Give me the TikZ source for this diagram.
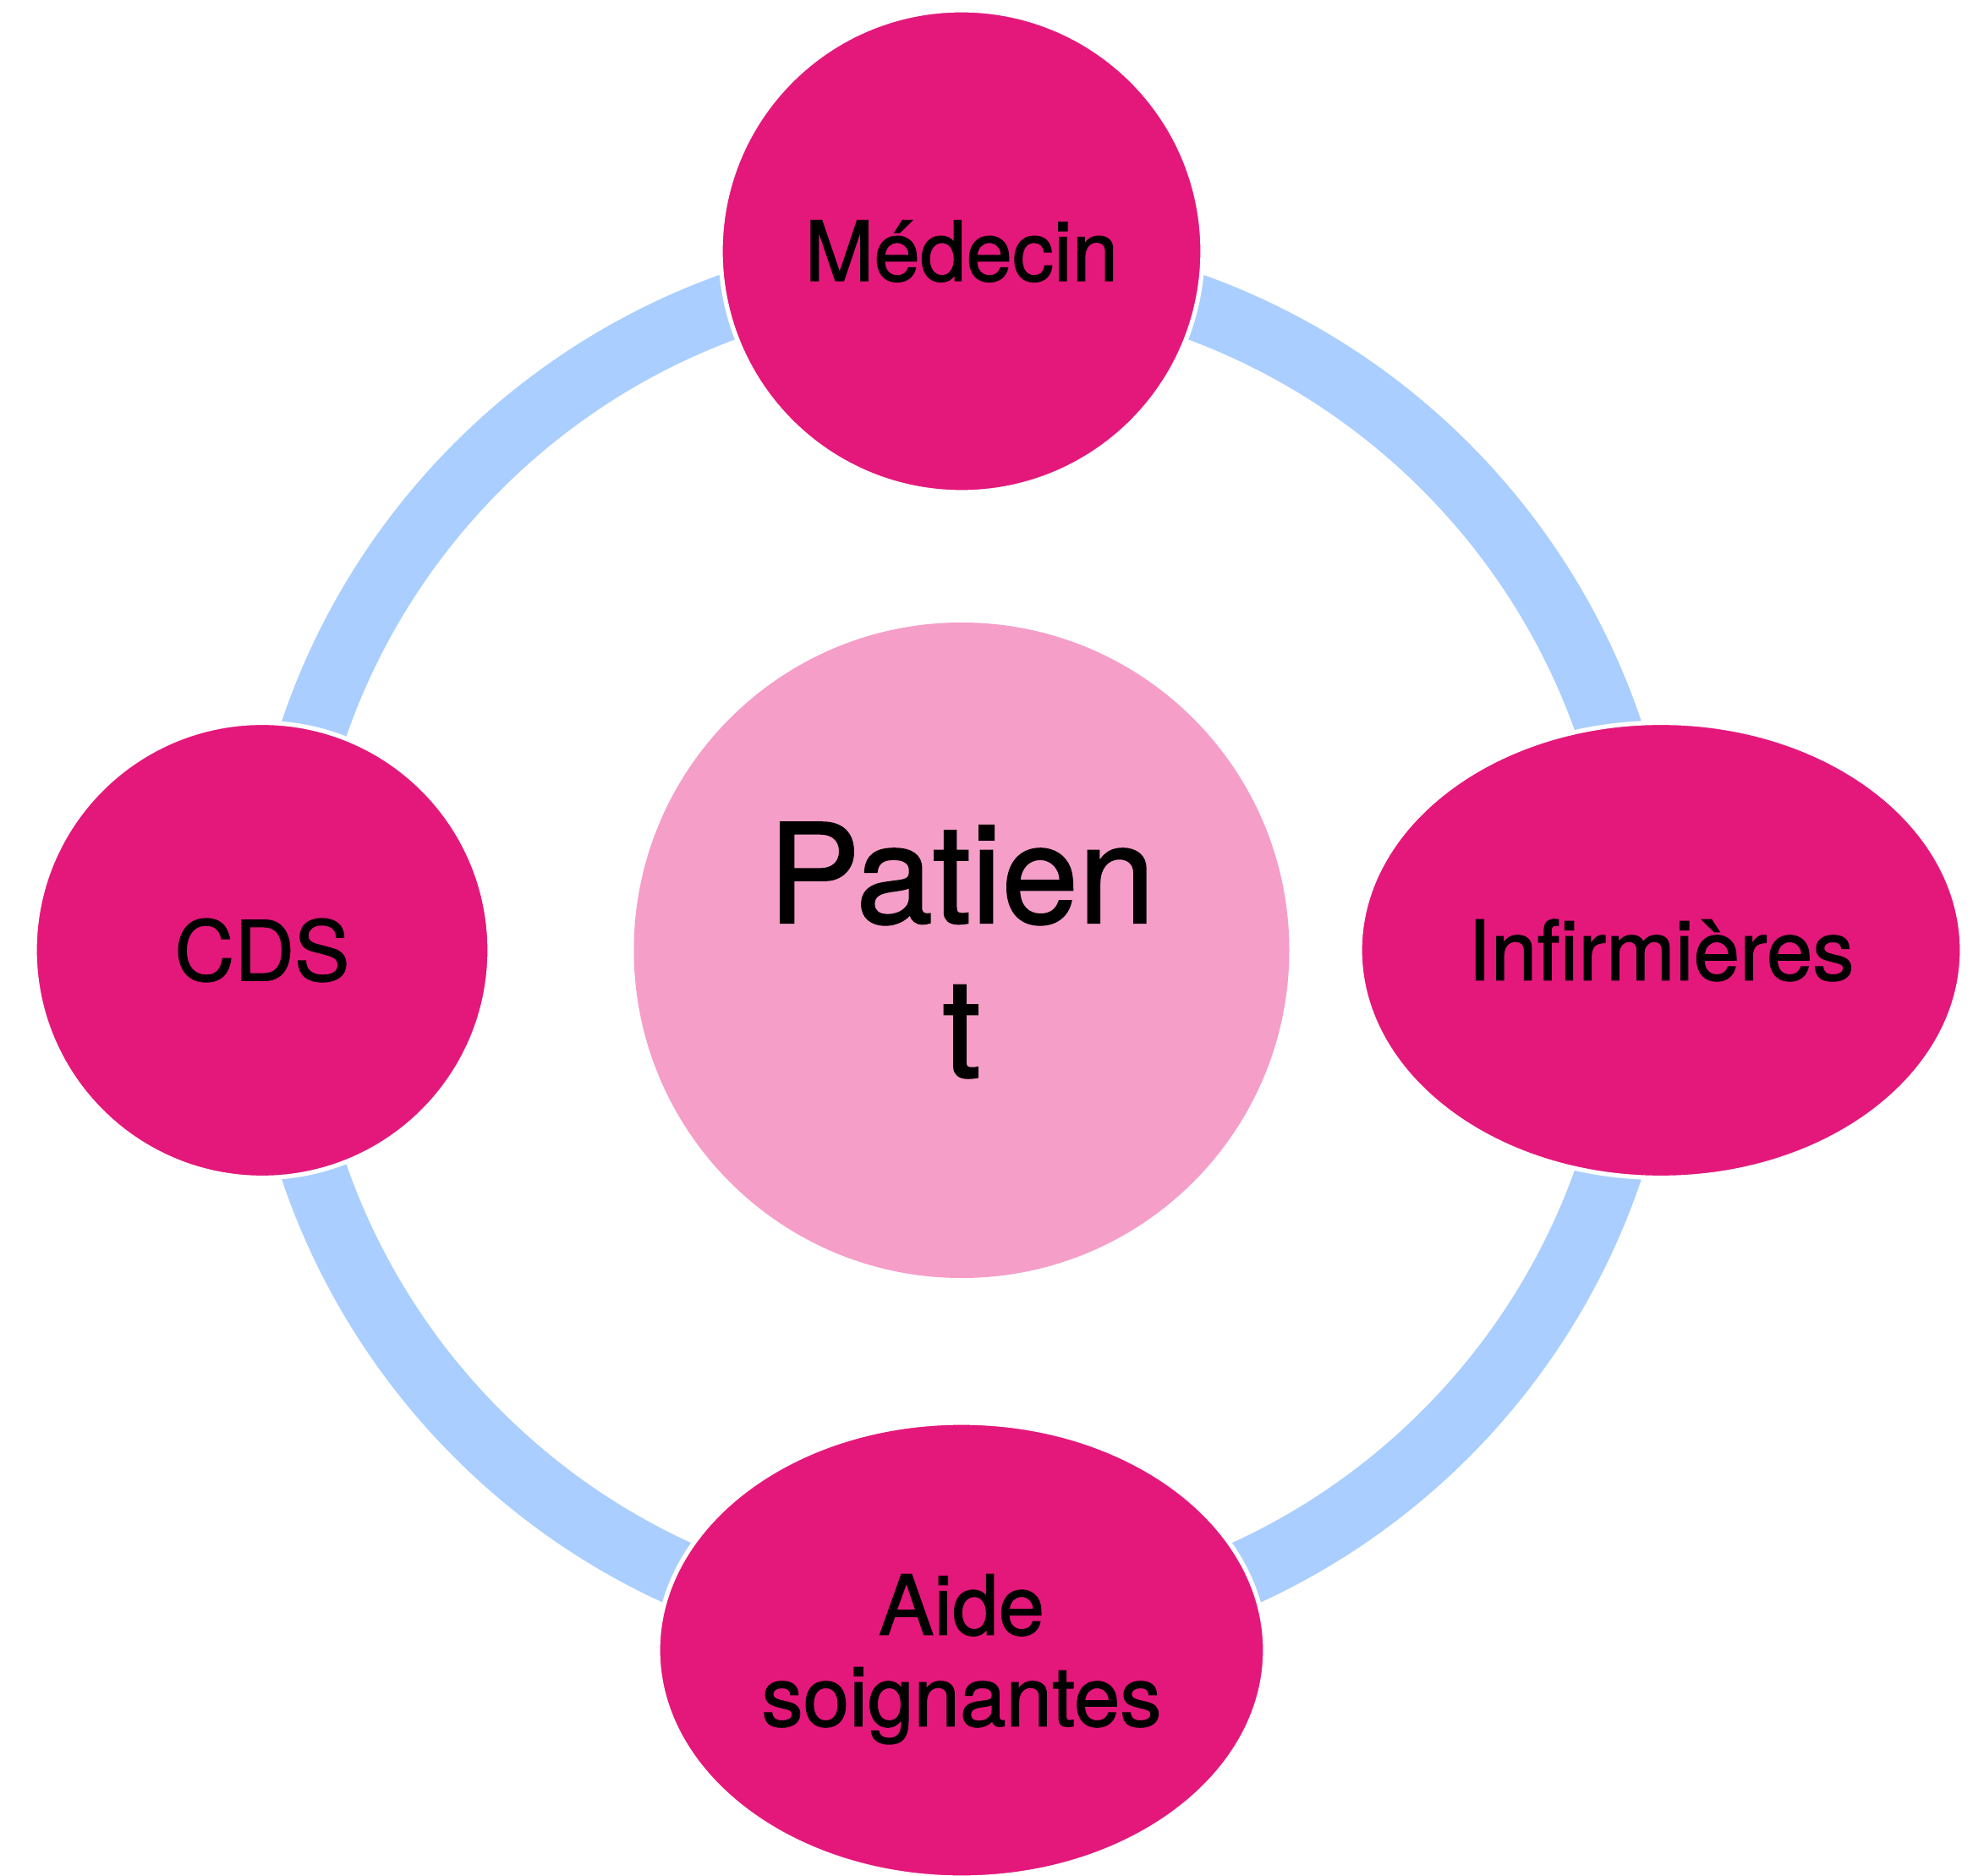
\documentclass[tikz,border=0pt]{standalone}
\usepackage{fontspec}
\setmainfont{TeX Gyre Heros}
\newfontfamily\grasmoyen{TeX Gyre Heros}[FakeBold=1.3]
\usetikzlibrary{shapes.geometric}
\definecolor{rosefonce}{RGB}{228,24,123}
\definecolor{roseclair}{RGB}{245,158,200}
\definecolor{bleuanneau}{RGB}{169,206,255}

\begin{document}
\begin{tikzpicture}
\tikzstyle{acteur}=[draw=white, line width=1.5pt, fill=rosefonce, inner sep=0pt, align=center, font=\grasmoyen\fontsize{27.9}{30.7}\selectfont]
\tikzstyle{rond}=[acteur, circle]
\tikzstyle{ovale}=[acteur, ellipse, minimum height=5.38cm]
\tikzstyle{anneau}=[line width=0.78cm, bleuanneau]
\useasboundingbox (0,0) rectangle (23.46,-22.18);
\node[circle, fill=roseclair, minimum size=7.75cm, inner sep=0pt, align=center, font=\grasmoyen\fontsize{46.4}{51.9}\selectfont] (patient) at (11.37,-11.235) {Patien\\t};
% l'anneau passe derriere les acteurs
\draw[anneau] (patient.center) circle (8.09);
\node[rond, minimum size=5.7cm] (medecin) at (11.37,-2.97) {Médecin};
\node[rond, minimum size=5.38cm] (cds) at (3.10,-11.235) {CDS};
\node[ovale, minimum width=7.12cm] (infirm) at (19.64,-11.235) {Infirmières};
\node[ovale, minimum width=7.18cm, text depth=0pt] (aide) at (11.37,-19.51) {Aide\\soignantes};
\end{tikzpicture}
\end{document}
